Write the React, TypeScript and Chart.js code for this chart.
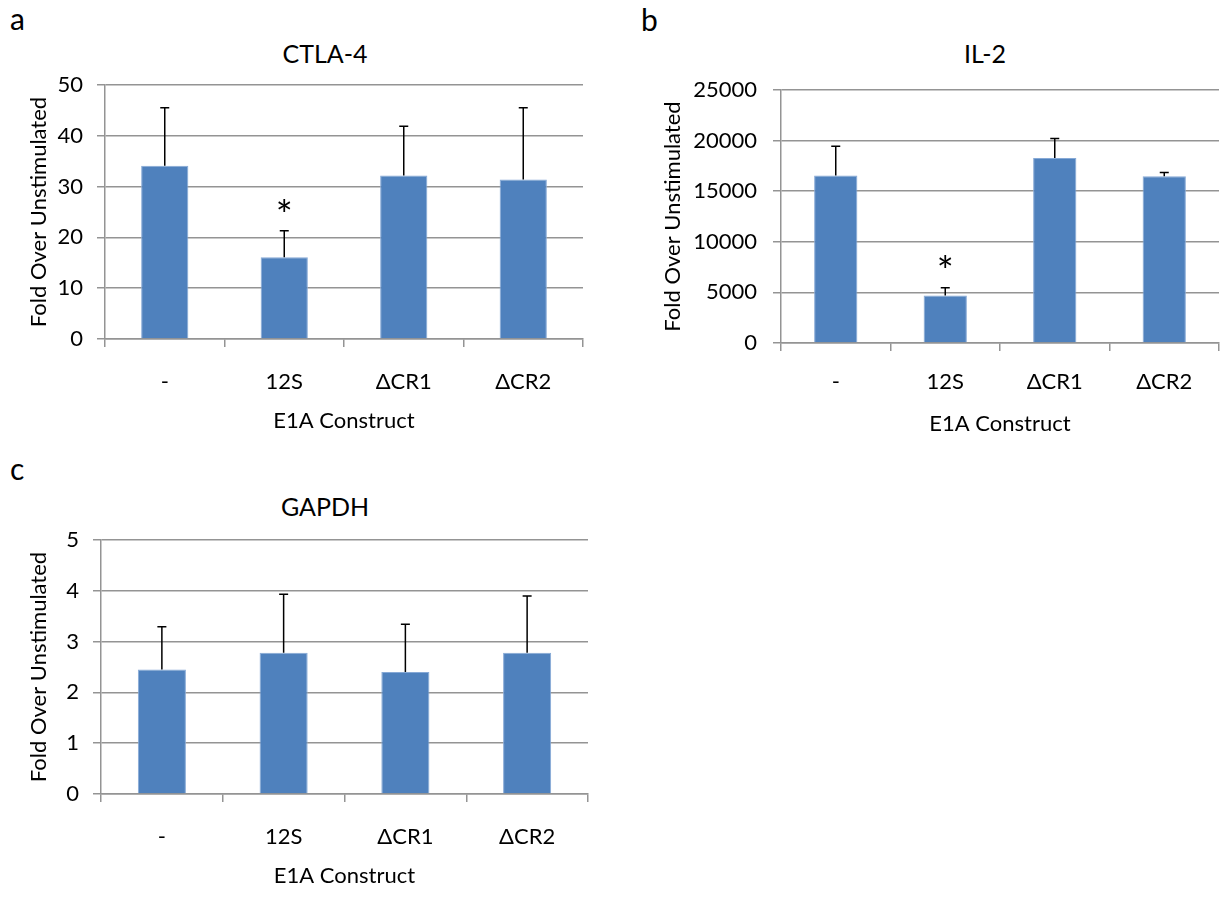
import React, { useEffect, useRef } from "react";
import { Chart, registerables } from "chart.js";

Chart.register(...registerables);

// ---------- data ----------
const categories = ["-", "12S", "ΔCR1", "ΔCR2"];

const ctla4Values = [34.1, 16.1, 32.2, 31.4];
const ctla4Errors = [11.4, 5.2, 9.7, 14.1];
const ctla4Ticks = { max: 50, step: 10 };
const ctla4Star = 26.4;

const il2Values = [16550, 4700, 18290, 16480];
const il2Errors = [2890, 760, 1910, 360];
const il2Ticks = { max: 25000, step: 5000 };
const il2Star = 8100;

const gapdhValues = [2.45, 2.78, 2.4, 2.78];
const gapdhErrors = [0.84, 1.15, 0.94, 1.12];
const gapdhTicks = { max: 5, step: 1 };

const xTitle = "E1A Construct";
const yTitle = "Fold Over Unstimulated";

// ---------- styling ----------
const FONT = "Lato, 'Open Sans', 'DejaVu Sans', sans-serif";
const BAR_COLOR = "#4F81BD";
const BAR_EDGE = "#86A9D6";
const GRID = "#949494";

type PanelProps = {
  left: number;
  top: number;
  width: number;
  height: number;
  values: number[];
  errors: number[];
  ticks: { max: number; step: number };
  star?: number | null;
  yAxisWidth: number;
  xAxisHeight: number;
  padTop: number;
  padRight: number;
  yLabelPad: number;
  yTitlePad: number;
  xLabelPad: number;
  xTitlePad: number;
};

const errorBarPlugin = {
  id: "errorBars",
  afterDatasetsDraw(chart: any, _args: any, opts: any) {
    const { ctx } = chart;
    const meta = chart.getDatasetMeta(0);
    const yScale = chart.scales.y;
    const values: number[] = chart.data.datasets[0].data;
    const errors: number[] = opts.errors || [];
    ctx.save();
    ctx.strokeStyle = "#000";
    ctx.lineWidth = 1.5;
    meta.data.forEach((bar: any, i: number) => {
      const x = bar.x;
      const y0 = yScale.getPixelForValue(values[i]);
      const y1 = yScale.getPixelForValue(values[i] + errors[i]);
      ctx.beginPath();
      ctx.moveTo(x, y0);
      ctx.lineTo(x, y1);
      ctx.moveTo(x - 4.5, y1);
      ctx.lineTo(x + 4.5, y1);
      ctx.stroke();
    });
    if (opts.star != null) {
      const bar = meta.data[1];
      const yc = yScale.getPixelForValue(opts.star);
      ctx.font = `40px ${FONT}`;
      ctx.fillStyle = "#000";
      ctx.textAlign = "center";
      ctx.textBaseline = "alphabetic";
      const m = ctx.measureText("*");
      const asc = m.actualBoundingBoxAscent || 0;
      const desc = m.actualBoundingBoxDescent || 0;
      ctx.fillText("*", bar.x, yc + (asc - desc) / 2);
    }
    ctx.restore();
  },
};

function Panel(p: PanelProps) {
  const ref = useRef<HTMLCanvasElement | null>(null);
  useEffect(() => {
    if (!ref.current) return;
    const chart = new Chart(ref.current, {
      type: "bar",
      data: {
        labels: categories,
        datasets: [
          {
            data: p.values,
            backgroundColor: BAR_COLOR,
            borderColor: BAR_EDGE,
            borderWidth: 1,
            barPercentage: 0.395,
            categoryPercentage: 1,
          },
        ],
      },
      options: {
        responsive: false,
        animation: false,
        layout: {
          padding: { top: p.padTop, right: p.padRight, left: 0, bottom: 0 },
        },
        plugins: {
          legend: { display: false },
          tooltip: { enabled: false },
          title: { display: false },
          errorBars: { errors: p.errors, star: p.star ?? null },
        } as any,
        scales: {
          x: {
            afterFit: (s: any) => {
              s.height = p.xAxisHeight;
            },
            grid: {
              display: true,
              drawOnChartArea: false,
              drawTicks: true,
              tickLength: 8,
              color: GRID,
              lineWidth: 1.5,
              offset: true,
            },
            border: { display: true, color: GRID, width: 1.5 },
            ticks: {
              color: "#000",
              font: { family: FONT, size: 22 },
              padding: p.xLabelPad,
              maxRotation: 0,
            },
            title: {
              display: true,
              text: xTitle,
              color: "#000",
              font: { family: FONT, size: 22 },
              padding: { top: 0, bottom: p.xTitlePad },
            },
          },
          y: {
            min: 0,
            max: p.ticks.max,
            afterFit: (s: any) => {
              s.width = p.yAxisWidth;
            },
            grid: {
              color: GRID,
              lineWidth: 1.5,
              tickLength: 8,
              drawTicks: true,
            },
            border: { display: true, color: GRID, width: 1.5 },
            ticks: {
              stepSize: p.ticks.step,
              color: "#000",
              font: { family: FONT, size: 22 },
              padding: p.yLabelPad,
              callback: (v: any) => String(v),
            },
            title: {
              display: true,
              text: yTitle,
              color: "#000",
              font: { family: FONT, size: 22 },
              padding: { top: p.yTitlePad, bottom: 0 },
            },
          },
        },
      },
      plugins: [errorBarPlugin],
    } as any);
    return () => chart.destroy();
  }, []);
  return (
    <canvas
      ref={ref}
      width={p.width}
      height={p.height}
      style={{
        position: "absolute",
        left: p.left,
        top: p.top,
        width: p.width,
        height: p.height,
      }}
    />
  );
}

function Label(props: {
  text: string;
  cx?: number;
  left?: number;
  top: number;
  size: number;
}) {
  const w = 300;
  const style: React.CSSProperties = {
    position: "absolute",
    top: props.top,
    fontFamily: FONT,
    fontSize: props.size,
    lineHeight: `${Math.round(props.size * 1.2)}px`,
    color: "#000",
    whiteSpace: "nowrap",
  };
  if (props.cx != null) {
    style.left = props.cx - w / 2;
    style.width = w;
    style.textAlign = "center";
  } else {
    style.left = props.left;
  }
  return <div style={style}>{props.text}</div>;
}

export default function App() {
  return (
    <div
      style={{
        position: "absolute",
        left: 0,
        top: 0,
        width: 1224,
        height: 907,
        background: "#fff",
        overflow: "hidden",
      }}
    >
      <Label text="a" left={10} top={0} size={30} />
      <Label text="b" left={641} top={1} size={30} />
      <Label text="c" left={10} top={450} size={30} />

      <Label text="CTLA-4" cx={325} top={38} size={25} />
      <Label text="IL-2" cx={985} top={38} size={25} />
      <Label text="GAPDH" cx={325} top={491} size={25} />

      <Panel
        left={0}
        top={0}
        width={600}
        height={450}
        values={ctla4Values}
        errors={ctla4Errors}
        ticks={ctla4Ticks}
        star={ctla4Star}
        yAxisWidth={105}
        xAxisHeight={111}
        padTop={85}
        padRight={17}
        yLabelPad={14}
        yTitlePad={26}
        xLabelPad={22}
        xTitlePad={16}
      />
      <Panel
        left={620}
        top={0}
        width={604}
        height={450}
        values={il2Values}
        errors={il2Errors}
        ticks={il2Ticks}
        star={il2Star}
        yAxisWidth={161}
        xAxisHeight={107}
        padTop={90}
        padRight={5}
        yLabelPad={16}
        yTitlePad={40}
        xLabelPad={18}
        xTitlePad={13}
      />
      <Panel
        left={0}
        top={450}
        width={600}
        height={457}
        values={gapdhValues}
        errors={gapdhErrors}
        ticks={gapdhTicks}
        star={null}
        yAxisWidth={101}
        xAxisHeight={113}
        padTop={90}
        padRight={12}
        yLabelPad={14}
        yTitlePad={26}
        xLabelPad={22}
        xTitlePad={18}
      />
    </div>
  );
}
